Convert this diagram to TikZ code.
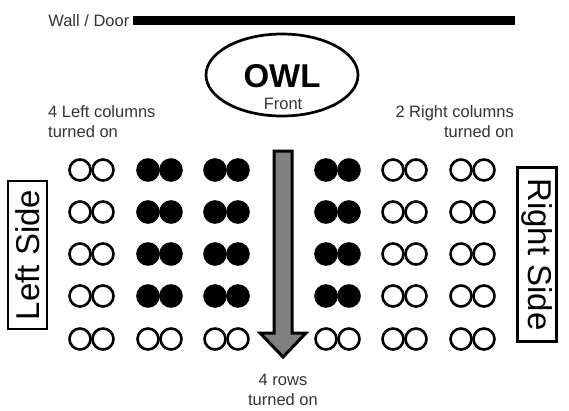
\documentclass[tikz,border=0pt]{standalone}
\usepackage{fontspec}
\setmainfont{Liberation Sans}
\usetikzlibrary{shapes.geometric}
\definecolor{txt}{HTML}{333333}
\definecolor{arrowgray}{HTML}{808080}
\begin{document}
\begin{tikzpicture}[x=1pt,y=-1pt,
  seat/.style={circle,draw=black,line width=2.6pt,minimum size=21pt,inner sep=0pt},
  seaton/.style={seat,fill=black},
  seatoff/.style={seat,fill=white},
  small/.style={font=\fontsize{16.5}{20}\selectfont,text=txt,inner sep=0pt},
  sidebox/.style={draw=black,line width=2.4pt,font=\fontsize{33}{36}\selectfont,inner sep=3pt,minimum height=39pt}]
\useasboundingbox (0,0) rectangle (569,410);
% wall
\coordinate (wl) at (133,20);
\coordinate (wr) at (515,20);
\draw[line width=9pt] (wl) -- (wr);
\node[small,anchor=east] (wall) at (129.5,21) {Wall / Door};
% owl
\node[ellipse,draw,line width=2.7pt,minimum width=152pt,minimum height=82pt] (owl) at (282,75) {};
\node[font=\fontsize{33}{36}\selectfont\bfseries,inner sep=0pt] (owlt) at (282,76) {OWL};
\node[small,text=txt] (front) at (283,104) {Front};
% column notes
\node[small,align=left,anchor=north west] (lnote) at (48,105) {4 Left columns\\turned on};
\node[small,align=right,anchor=north east] (rnote) at (514,105) {2 Right columns\\turned on};
% arrow
\coordinate (a1) at (274,151);
\coordinate (a2) at (292,151);
\coordinate (a3) at (292,333);
\coordinate (a4) at (306,333);
\coordinate (tip) at (283,357);
\coordinate (a6) at (260,333);
\coordinate (a7) at (274,333);
\draw[fill=arrowgray,line width=3pt,line join=miter] (a1) -- (a2) -- (a3) -- (a4) -- (tip) -- (a6) -- (a7) -- cycle;
\node[small,align=center] (rows) at (283,390) {4 rows\\turned on};
% seats
\foreach \r/\y in {1/170,2/212,3/254,4/296,5/339} {
  \foreach \c/\x in {1/80,2/103,3/148,4/171,5/215,6/238,7/326,8/349,9/393,10/416,11/461,12/484} {
    \pgfmathtruncatemacro{\on}{and(and(\r<5,\c>2),\c<9)}
    \ifnum\on=1
      \node[seaton] (s-\r-\c) at (\x,\y) {};
    \else
      \node[seatoff] (s-\r-\c) at (\x,\y) {};
    \fi
  }
}
% side labels
\node[sidebox,rotate=90,minimum width=148pt] (left) at (27.5,255) {Left Side};
\node[sidebox,rotate=-90,minimum width=174pt] (right) at (537,254.5) {Right Side};
\end{tikzpicture}
\end{document}
